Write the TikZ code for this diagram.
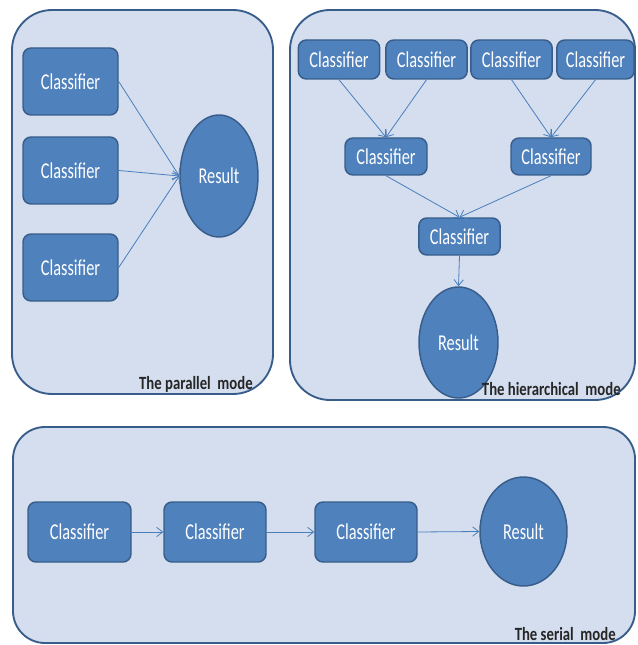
\documentclass[tikz,border=0pt]{standalone}
\usepackage{fontspec}
\usepackage{graphicx}
\setmainfont{Carlito}
\usetikzlibrary{arrows.meta,shapes.geometric}
\definecolor{panelfill}{RGB}{212,222,239}
\definecolor{paneldraw}{RGB}{56,93,138}
\definecolor{boxfill}{RGB}{79,129,189}
\definecolor{boxdraw}{RGB}{56,93,138}
\definecolor{arrowc}{RGB}{74,126,187}
\definecolor{labelc}{RGB}{38,38,38}
\newcommand{\cls}{\scalebox{0.72}[1]{Classifier}}
\newcommand{\res}{\scalebox{0.72}[1]{Result}}
\newcommand{\lbl}[1]{\scalebox{0.79}[1]{#1}}
\tikzset{
  panel/.style={draw=paneldraw, fill=panelfill, line width=1.4pt},
  clsbox/.style={draw=boxdraw, fill=boxfill, line width=1.1pt, rounded corners=6pt,
    text=white, font=\fontsize{17}{20}\selectfont, inner sep=0pt},
  resnode/.style={ellipse, draw=boxdraw, fill=boxfill, line width=1.1pt,
    text=white, font=\fontsize{17}{20}\selectfont, inner sep=0pt},
  conn/.style={draw=arrowc, line width=0.6pt, -{Straight Barb[length=4.5pt,width=7pt]}},
  modelabel/.style={text=labelc, font=\fontsize{14}{16}\bfseries\selectfont, inner sep=0pt, anchor=base east}
}
\begin{document}
\begin{tikzpicture}[x=0.75pt,y=-0.75pt]
\useasboundingbox (0,0) rectangle (637,645);
\fill[white] (0,0) rectangle (637,645);
% panels
\draw[panel, rounded corners=30pt] (12,10) rectangle (273,394);
\draw[panel, rounded corners=30pt] (290,10) rectangle (635,400);
\draw[panel, rounded corners=24pt] (13,427) rectangle (635,643);

% parallel mode
\node[clsbox, minimum width=71.25pt, minimum height=50.25pt] (p1) at (70.5,81.5) {\cls};
\node[clsbox, minimum width=71.25pt, minimum height=50.25pt] (p2) at (70.5,170.5) {\cls};
\node[clsbox, minimum width=71.25pt, minimum height=50.25pt] (p3) at (70.5,267.5) {\cls};
\node[resnode, minimum width=58.5pt, minimum height=91.5pt] (pr) at (219,176) {\res};
\draw[conn] (p1.east) -- (pr.west);
\draw[conn] (p2.east) -- (pr.west);
\draw[conn] (p3.east) -- (pr.west);
\node[modelabel] (pl) at (253,389) {\lbl{The parallel\ \ mode}};

% hierarchical mode
\node[clsbox, minimum width=61pt, minimum height=29.25pt] (ha) at (339,59.5) {\cls};
\node[clsbox, minimum width=61pt, minimum height=29.25pt] (hb) at (426.5,59.5) {\cls};
\node[clsbox, minimum width=61pt, minimum height=29.25pt] (hc) at (511.5,59.5) {\cls};
\node[clsbox, minimum width=58pt, minimum height=29.25pt] (hd) at (595.5,59.5) {\cls};
\node[clsbox, minimum width=61.5pt, minimum height=27.75pt] (he) at (386,156.5) {\cls};
\node[clsbox, minimum width=60pt, minimum height=27.75pt] (hf) at (551,156.5) {\cls};
\node[clsbox, minimum width=61pt, minimum height=27.75pt] (hg) at (459.5,236.5) {\cls};
\node[resnode, minimum width=59.25pt, minimum height=83.25pt] (hr) at (458.5,342.5) {\res};
\draw[conn] (ha.south) -- (he.north);
\draw[conn] (hb.south) -- (he.north);
\draw[conn] (hc.south) -- (hf.north);
\draw[conn] (hd.south) -- (hf.north);
\draw[conn] (he.south) -- (hg.north);
\draw[conn] (hf.south) -- (hg.north);
\draw[conn] (hg.south) -- (hr.north);
\node[modelabel] (hl) at (621,395) {\lbl{The hierarchical\ \ mode}};

% serial mode
\node[clsbox, minimum width=77.25pt, minimum height=45pt] (s1) at (79.5,532) {\cls};
\node[clsbox, minimum width=76.5pt, minimum height=45pt] (s2) at (215,532) {\cls};
\node[clsbox, minimum width=76.5pt, minimum height=45pt] (s3) at (366,532) {\cls};
\node[resnode, minimum width=65.25pt, minimum height=81.75pt] (sr) at (523.5,531.5) {\res};
\draw[conn] (s1.east) -- (s2.west);
\draw[conn] (s2.east) -- (s3.west);
\draw[conn] (s3.east) -- (sr.west);
\node[modelabel] (sl) at (616,640) {\lbl{The serial\ \ mode}};
\end{tikzpicture}
\end{document}
